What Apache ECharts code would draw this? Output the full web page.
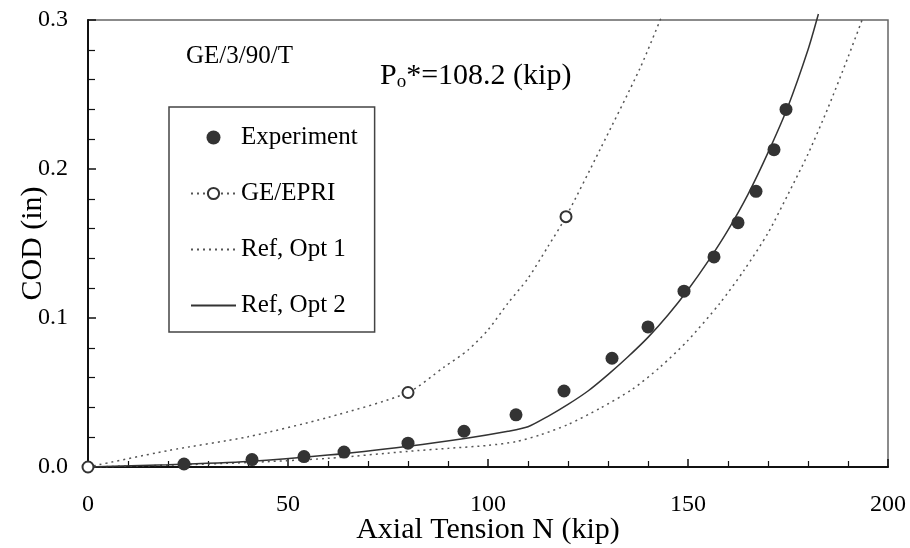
<!DOCTYPE html>
<html>
<head>
<meta charset="utf-8">
<script src="https://cdn.jsdelivr.net/npm/echarts@6/dist/echarts.min.js"></script>
<style>
html, body { margin: 0; padding: 0; background: #fff; }
#main { width: 910px; height: 548px; }
</style>
</head>
<body>
<div id="main"></div>
<script>
// experiment points (kip, in)
var expN = [24, 41, 54, 64, 80, 94, 107, 119, 131, 140, 149, 156.5, 162.5, 167, 171.5, 174.5];
var expCOD = [0.002, 0.005, 0.007, 0.010, 0.016, 0.024, 0.035, 0.051, 0.073, 0.094, 0.118, 0.141, 0.164, 0.185, 0.213, 0.240];

// GE/EPRI estimate, circles only on some points
var geN = [0, 20, 40, 60, 80, 89, 95, 100, 105, 110, 115, 119.5, 128, 138, 143.5];
var geCOD = [0, 0.011, 0.0203, 0.0333, 0.050, 0.067, 0.0785, 0.092, 0.110, 0.1266, 0.148, 0.168, 0.213, 0.2676, 0.303];
var geMarkN = [0, 80, 119.5];

// reference, option 1
var opt1N = [0, 20, 40, 60, 80, 90, 100, 107, 113, 120, 128, 136, 143, 150, 158, 164, 170, 175, 180, 185, 190, 193.8];
var opt1COD = [0, 0.0012, 0.003, 0.0058, 0.0105, 0.0125, 0.0145, 0.017, 0.0215, 0.0285, 0.0394, 0.052, 0.067, 0.085, 0.110, 0.132, 0.157, 0.183, 0.210, 0.241, 0.275, 0.302];

// reference, option 2
var opt2N = [0, 20, 40, 60, 80, 95, 105, 110, 115, 120, 125, 130, 135, 140, 145, 150, 155, 160, 165, 170, 175, 180, 182.6];
var opt2COD = [0, 0.0015, 0.0037, 0.008, 0.014, 0.0195, 0.024, 0.027, 0.034, 0.042, 0.051, 0.062, 0.074, 0.087, 0.102, 0.119, 0.138, 0.159, 0.183, 0.211, 0.242, 0.280, 0.304];

var FONT = '"Liberation Serif", "Times New Roman", serif';

function zip(xs, ys){
	var out = [];
	for(var i = 0; i < xs.length; i++){
		out.push([xs[i], ys[i]]);
	}
	return out;
}

var geData = [];
for(var i = 0; i < geN.length; i++){
	if(geMarkN.indexOf(geN[i]) > -1){
		geData.push({ value: [geN[i], geCOD[i]] });
	}else{
		geData.push({ value: [geN[i], geCOD[i]], symbol: 'none' });
	}
}

var chart = echarts.init(document.getElementById('main'));

var dotted = [2, 4];

var option = {
	backgroundColor: '#fff',
	animation: false,
	textStyle: { fontFamily: FONT },
	grid: {
		left: 88, right: 22, top: 20, bottom: 81,
		outerBoundsMode: 'none',
		show: true,
		borderColor: '#666',
		borderWidth: 1.5,
		backgroundColor: 'transparent'
	},
	xAxis: {
		type: 'value',
		min: 0, max: 200, interval: 50,
		name: 'Axial Tension N (kip)',
		nameLocation: 'middle',
		nameGap: 48,
		nameMoveOverlap: false,
		nameTextStyle: { fontSize: 30, color: '#000', fontFamily: FONT },
		axisLine: { show: true, lineStyle: { color: '#111', width: 2 } },
		axisTick: { show: true, inside: true, length: 8, lineStyle: { color: '#111', width: 1.5 } },
		minorTick: { show: true, splitNumber: 5, length: 6, lineStyle: { color: '#111', width: 1.2 } },
		axisLabel: { fontSize: 24, color: '#000', margin: 26, fontFamily: FONT },
		splitLine: { show: false }
	},
	yAxis: {
		type: 'value',
		min: 0, max: 0.3, interval: 0.1,
		name: 'COD (in)',
		nameLocation: 'middle',
		nameGap: 40,
		nameMoveOverlap: false,
		nameTextStyle: { fontSize: 30, color: '#000', fontFamily: FONT },
		axisLine: { show: true, lineStyle: { color: '#111', width: 2 } },
		axisTick: { show: true, inside: true, length: 8, lineStyle: { color: '#111', width: 1.5 } },
		minorTick: { show: true, splitNumber: 5, length: 7, lineStyle: { color: '#111', width: 1.2 } },
		axisLabel: {
			fontSize: 24, color: '#000', margin: 20, fontFamily: FONT,
			formatter: function(v){ return v.toFixed(1); }
		},
		splitLine: { show: false }
	},
	legend: {
		orient: 'vertical',
		left: 169, top: 107,
		padding: [18, 17, 14, 21],
		itemGap: 31,
		itemWidth: 45,
		itemHeight: 14,
		borderColor: '#444',
		borderWidth: 1.5,
		backgroundColor: '#fff',
		textStyle: { fontSize: 25, lineHeight: 25, color: '#000', fontFamily: FONT },
		data: [
			'Experiment',
			'GE/EPRI',
			{ name: 'Ref, Opt 1', itemStyle: { opacity: 0 } },
			{ name: 'Ref, Opt 2', itemStyle: { opacity: 0 } }
		]
	},
	graphic: [
		{
			type: 'text', left: 186, top: 44,
			style: { text: 'GE/3/90/T', fontSize: 25, fill: '#000', fontFamily: FONT }
		},
		{
			type: 'text', left: 380, top: 61,
			style: {
				text: '{a|P}{b|o}{a|*=108.2 (kip)}',
				fill: '#000',
				fontFamily: FONT,
				rich: {
					a: { fontSize: 30, lineHeight: 32, fontFamily: FONT, fill: '#000' },
					b: { fontSize: 19, lineHeight: 22, verticalAlign: 'bottom', fontFamily: FONT, fill: '#000' }
				}
			}
		}
	],
	series: [
		{
			name: 'Experiment',
			type: 'scatter',
			symbol: 'circle',
			symbolSize: 13,
			itemStyle: { color: '#333', opacity: 1 },
			data: zip(expN, expCOD),
			z: 5
		},
		{
			name: 'GE/EPRI',
			type: 'line',
			symbol: 'emptyCircle',
			symbolSize: 11,
			showSymbol: true,
			clip: false,
			smooth: 0.25,
			itemStyle: { color: '#333', borderWidth: 1.3 },
			lineStyle: { color: '#555', width: 1.5, type: dotted },
			data: geData,
			z: 4
		},
		{
			name: 'Ref, Opt 1',
			type: 'line',
			symbol: 'none',
			clip: false,
			smooth: 0.25,
			itemStyle: { color: '#555' },
			lineStyle: { color: '#555', width: 1.5, type: dotted },
			data: zip(opt1N, opt1COD)
		},
		{
			name: 'Ref, Opt 2',
			type: 'line',
			symbol: 'none',
			clip: false,
			smooth: 0.25,
			itemStyle: { color: '#333' },
			lineStyle: { color: '#333', width: 1.5, type: 'solid' },
			data: zip(opt2N, opt2COD)
		}
	]
};

chart.setOption(option);
</script>
</body>
</html>
